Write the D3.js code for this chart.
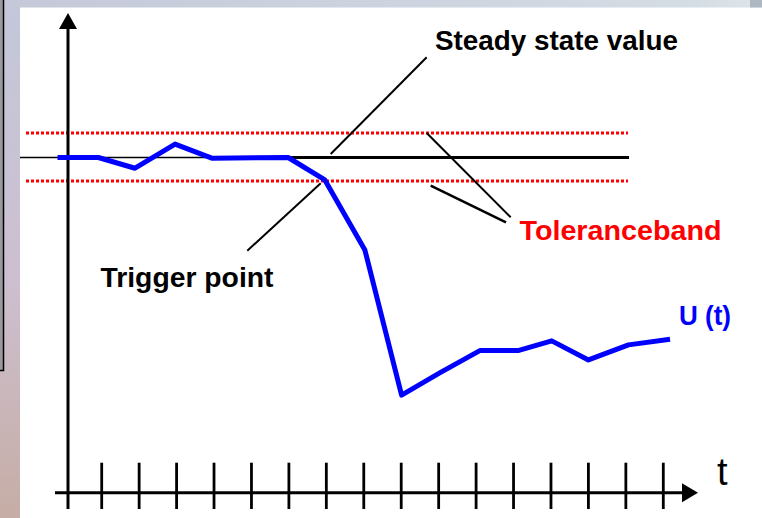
<!DOCTYPE html>
<html>
<head>
<meta charset="utf-8">
<script src="https://cdn.jsdelivr.net/npm/d3@7"></script>
<style>
  html, body { margin: 0; padding: 0; background: #ffffff; }
  svg { display: block; }
  text { font-family: "Liberation Sans", Arial, sans-serif; }
</style>
</head>
<body>
<script>
// Time ticks along the t axis
const tickTimes = [1, 2, 3, 4, 5, 6, 7, 8, 9, 10, 11, 12, 13, 14, 15, 16];

// Sampled controlled variable U(t), in % of the steady state value
const sampleTimes = [-0.18, 0.91, 1.89, 2.96, 3.94, 5.98, 6.96, 8.03, 9.01, 10.04, 11.10, 12.12, 13.02, 14.00, 15.07, 16.18];
const uValues     = [100, 100, 96.8, 104.0, 99.8, 100, 93.3, 72.4, 29.1, 35.8, 42.4, 42.4, 45.3, 39.6, 44.1, 45.8];

// Reference levels
const steadyValue = 100;
const bandUpper = 107.3;
const bandLower = 93.0;

// Labels
const labelSteady = "Steady state value";
const labelBand = "Toleranceband";
const labelTrigger = "Trigger point";
const labelSeries = "U (t)";
const labelTime = "t";

const W = 762, H = 518;
const svg = d3.select("body").append("svg").attr("width", W).attr("height", H);

// Scales: ticks 1..16 along the time axis, U = 0 sits on the time axis
const x = d3.scaleLinear().domain([1, 16]).range([101.7, 663.3]);
const y = d3.scaleLinear().domain([0, 100]).range([492.7, 157.5]);
const originT = 0.1;

// ---- slide frame ----
const defs = svg.append("defs");
const gLeft = defs.append("linearGradient").attr("id", "leftBand")
  .attr("x1", 0).attr("y1", 0).attr("x2", 0).attr("y2", 1);
gLeft.append("stop").attr("offset", 0).attr("stop-color", "#c3c8da");
gLeft.append("stop").attr("offset", 0.55).attr("stop-color", "#cdbfcf");
gLeft.append("stop").attr("offset", 1).attr("stop-color", "#c6ada5");
const gTop = defs.append("linearGradient").attr("id", "topBand")
  .attr("x1", 0).attr("y1", 0).attr("x2", 1).attr("y2", 0);
gTop.append("stop").attr("offset", 0).attr("stop-color", "#c4c8d8");
gTop.append("stop").attr("offset", 0.9).attr("stop-color", "#d4dce4");
gTop.append("stop").attr("offset", 1).attr("stop-color", "#dfe6ea");

svg.append("rect").attr("x", 0).attr("y", 0).attr("width", W).attr("height", H).attr("fill", "#ffffff");
svg.append("rect").attr("x", 0).attr("y", 0).attr("width", 20).attr("height", H).attr("fill", "url(#leftBand)");
svg.append("rect").attr("x", 0).attr("y", 0).attr("width", W).attr("height", 7.5).attr("fill", "url(#topBand)");
svg.append("rect").attr("x", 750).attr("y", 0).attr("width", 12).attr("height", 7.5).attr("fill", "#aeb8c2");
// dark panel edge on the far left
svg.append("rect").attr("x", -10).attr("y", -10).attr("width", 13.5).attr("height", 380.5)
  .attr("fill", "#9a9a9e").attr("stroke", "#000000").attr("stroke-width", 1.5);

// ---- reference levels ----
const xLeft = 20, xRight = 629;
svg.append("line").attr("x1", xLeft).attr("x2", xRight)
  .attr("y1", y(steadyValue)).attr("y2", y(steadyValue))
  .attr("stroke", "#000").attr("stroke-width", 1.6);
svg.append("line").attr("x1", x(5.2)).attr("x2", xRight)
  .attr("y1", y(steadyValue)).attr("y2", y(steadyValue))
  .attr("stroke", "#000").attr("stroke-width", 3);

svg.selectAll("line.band").data([bandUpper, bandLower]).join("line")
  .attr("class", "band")
  .attr("x1", 26).attr("x2", 628)
  .attr("y1", d => y(d)).attr("y2", d => y(d))
  .attr("stroke", "#ff0000").attr("stroke-width", 3)
  .attr("stroke-dasharray", "3,2");

// ---- leader lines ----
const leaders = [
  [[426.7, 57.3], [330.7, 154]],
  [[247.3, 250.7], [320.7, 183.3]],
  [[426.7, y(bandUpper)], [510.7, 217.3]],
  [[430.7, 185.7], [506, 222.3]]
];
svg.selectAll("line.leader").data(leaders).join("line")
  .attr("class", "leader")
  .attr("x1", d => d[0][0]).attr("y1", d => d[0][1])
  .attr("x2", d => d[1][0]).attr("y2", d => d[1][1])
  .attr("stroke", "#000").attr("stroke-width", (d, i) => i === 3 ? 2.6 : 2);

// ---- axes ----
const axisColor = "#000";
const x0 = x(originT);
const yAxisTop = 13, yAxisBottom = 509;
const xAxisLeft = 55, xAxisTip = 698;
const y0 = y(0);

svg.append("line").attr("x1", x0).attr("x2", x0).attr("y1", yAxisTop + 10).attr("y2", yAxisBottom)
  .attr("stroke", axisColor).attr("stroke-width", 3);
svg.append("path")
  .attr("d", `M${x0},${yAxisTop} L${x0 - 9},${yAxisTop + 16} L${x0 + 9},${yAxisTop + 16} Z`)
  .attr("fill", axisColor);

svg.append("line").attr("x1", xAxisLeft).attr("x2", xAxisTip - 10).attr("y1", y0).attr("y2", y0)
  .attr("stroke", axisColor).attr("stroke-width", 3);
svg.append("path")
  .attr("d", `M${xAxisTip},${y0} L${xAxisTip - 16},${y0 - 9.5} L${xAxisTip - 16},${y0 + 9.5} Z`)
  .attr("fill", axisColor);

svg.selectAll("line.tick").data(tickTimes).join("line")
  .attr("class", "tick")
  .attr("x1", d => x(d)).attr("x2", d => x(d))
  .attr("y1", y0 - 30).attr("y2", yAxisBottom)
  .attr("stroke", axisColor).attr("stroke-width", 2.8);

// ---- U(t) trace ----
const line = d3.line().x(d => x(d[0])).y(d => y(d[1]));
svg.append("path")
  .datum(sampleTimes.map((t, i) => [t, uValues[i]]))
  .attr("d", line)
  .attr("fill", "none")
  .attr("stroke", "#0000ff")
  .attr("stroke-width", 5)
  .attr("stroke-linejoin", "round");

// ---- labels ----
function label(txt, px, py, size, color, bold, len) {
  const t = svg.append("text").attr("x", px).attr("y", py)
    .attr("font-size", size).attr("fill", color).text(txt);
  if (bold) t.attr("font-weight", "bold");
  if (len) t.attr("textLength", len).attr("lengthAdjust", "spacingAndGlyphs");
  return t;
}
label(labelSteady, 435, 50, 28, "#000", true, 243);
label(labelBand, 519.5, 240, 28, "#ff0000", true, 202);
label(labelTrigger, 100.5, 286.5, 28, "#000", true, 173);
label(labelSeries, 679, 325, 28, "#0000ff", true, 52);
label(labelTime, 717, 485, 38, "#000", false, null);
</script>
</body>
</html>
